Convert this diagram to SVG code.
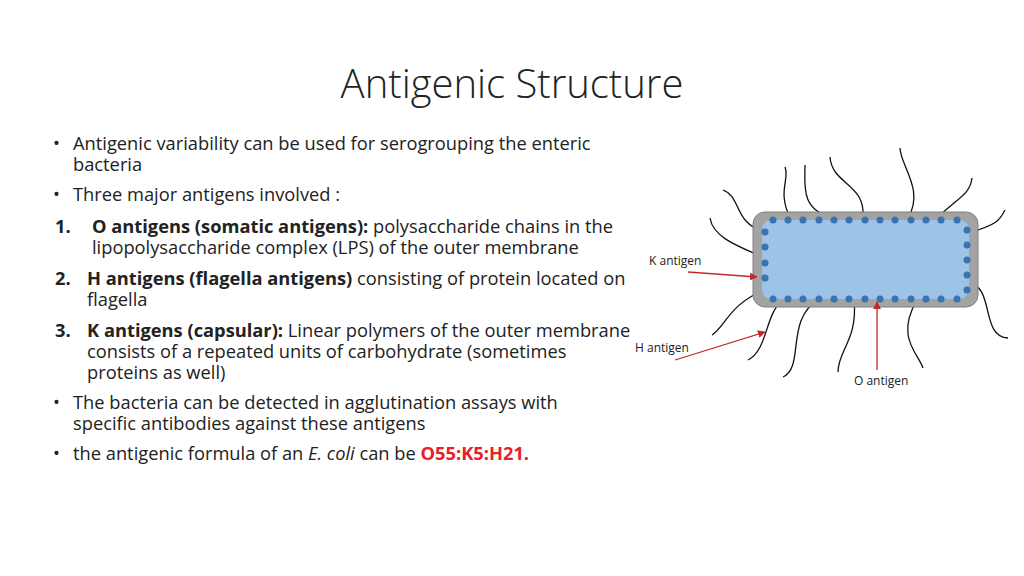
<svg xmlns="http://www.w3.org/2000/svg" width="1024" height="576" viewBox="0 0 1024 576">
<style>
text{font-family:"Open Sans","Liberation Sans",sans-serif;fill:#222}
.b{font-size:18.3px}
.l{font-size:12px}
.f{fill:none;stroke:#111;stroke-width:1.3}
.r{stroke:#c0282d;stroke-width:1.3;marker-end:url(#a)}
.d{fill:#3a73b0}
</style>
<defs><marker id="a" viewBox="0 0 10 10" refX="9" refY="5" markerWidth="6" markerHeight="6" orient="auto"><path d="M0,0L10,5L0,10z" fill="#c0282d"/></marker></defs>
<rect width="1024" height="576" fill="#fff"/>
<text x="512" y="98" text-anchor="middle" font-size="40" font-weight="300">Antigenic Structure</text>
<g class="b">
<text x="53" y="150">•</text><text x="73" y="150">Antigenic variability can be used for serogrouping the enteric</text>
<text x="73" y="171">bacteria</text>
<text x="53" y="201">•</text><text x="73" y="201">Three major antigens involved :</text>
<text x="55" y="233" font-weight="bold">1.</text><text x="92" y="233"><tspan font-weight="bold">O antigens (somatic antigens):</tspan> polysaccharide chains in the</text>
<text x="92" y="254">lipopolysaccharide complex  (LPS) of the outer membrane</text>
<text x="55" y="285" font-weight="bold">2.</text><text x="87" y="285"><tspan font-weight="bold">H antigens (flagella antigens)</tspan> consisting of protein located on</text>
<text x="87" y="306">flagella</text>
<text x="55" y="337" font-weight="bold">3.</text><text x="87" y="337"><tspan font-weight="bold">K antigens (capsular):</tspan>  Linear polymers of the outer membrane</text>
<text x="87" y="358">consists of a repeated units of carbohydrate (sometimes</text>
<text x="87" y="379">proteins as well)</text>
<text x="53" y="409">•</text><text x="73" y="409">The bacteria can be detected in agglutination assays with</text>
<text x="73" y="430">specific antibodies against these antigens</text>
<text x="53" y="460">•</text><text x="73" y="460">the antigenic formula of an <tspan font-style="italic">E. coli</tspan> can be <tspan font-weight="bold" fill="#e8202a">O55:K5:H21.</tspan></text>
</g>
<g id="flagella">
<path class="f" d="M790,218C777,190 790,180 785,167"/>
<path class="f" d="M833,218C800,210 805,185 805,165"/>
<path class="f" d="M863,218C866,183 832,185 830,157"/>
<path class="f" d="M908,218C925,190 900,165 900,148"/>
<path class="f" d="M937,218C957,198 970,195 972,178"/>
<path class="f" d="M968,233C997,225 1000,220 1005,210"/>
<path class="f" d="M968,283C995,285 980,337 1008,338"/>
<path class="f" d="M765,232C733,223 742,197 723,190"/>
<path class="f" d="M765,258C740,247 713,238 710,218"/>
<path class="f" d="M765,290C730,303 725,327 712,335"/>
<path class="f" d="M783,300C765,313 768,350 748,360"/>
<path class="f" d="M818,300C785,320 805,367 783,377"/>
<path class="f" d="M854,300C858,340 838,350 838,372"/>
<path class="f" d="M917,300C895,337 918,353 923,368"/>
</g>
<g id="cell">
<rect x="753" y="212" width="225" height="95" rx="12" fill="#a3a3a3" stroke="#7f7f7f"/>
<rect x="762" y="220" width="207" height="79" rx="9" fill="#9dc3e6"/>
</g>
<g id="antigens">
<circle class="d" cx="773" cy="220" r="3.5"/><circle class="d" cx="788" cy="220" r="3.5"/><circle class="d" cx="803" cy="220" r="3.5"/><circle class="d" cx="819" cy="220" r="3.5"/><circle class="d" cx="834" cy="220" r="3.5"/><circle class="d" cx="849" cy="220" r="3.5"/><circle class="d" cx="865" cy="220" r="3.5"/><circle class="d" cx="880" cy="220" r="3.5"/><circle class="d" cx="895" cy="220" r="3.5"/><circle class="d" cx="911" cy="220" r="3.5"/><circle class="d" cx="926" cy="220" r="3.5"/><circle class="d" cx="941" cy="220" r="3.5"/><circle class="d" cx="957" cy="220" r="3.5"/>
<circle class="d" cx="773" cy="299" r="3.5"/><circle class="d" cx="788" cy="299" r="3.5"/><circle class="d" cx="803" cy="299" r="3.5"/><circle class="d" cx="819" cy="299" r="3.5"/><circle class="d" cx="834" cy="299" r="3.5"/><circle class="d" cx="849" cy="299" r="3.5"/><circle class="d" cx="865" cy="299" r="3.5"/><circle class="d" cx="880" cy="299" r="3.5"/><circle class="d" cx="895" cy="299" r="3.5"/><circle class="d" cx="911" cy="299" r="3.5"/><circle class="d" cx="926" cy="299" r="3.5"/><circle class="d" cx="941" cy="299" r="3.5"/><circle class="d" cx="957" cy="299" r="3.5"/>
<circle class="d" cx="765" cy="232" r="3.5"/><circle class="d" cx="765" cy="247" r="3.5"/><circle class="d" cx="765" cy="263" r="3.5"/><circle class="d" cx="765" cy="278" r="3.5"/>
<circle class="d" cx="967" cy="230" r="3.5"/><circle class="d" cx="967" cy="245" r="3.5"/><circle class="d" cx="967" cy="260" r="3.5"/><circle class="d" cx="967" cy="275" r="3.5"/><circle class="d" cx="967" cy="290" r="3.5"/>
</g>
<g id="connectors">
<line class="r" x1="688" y1="272" x2="757" y2="277"/>
<line class="r" x1="675" y1="360" x2="765" y2="332"/>
<line class="r" x1="877" y1="370" x2="877" y2="302"/>
</g>
<g id="labels" class="l">
<text x="649" y="265">K antigen</text>
<text x="635" y="352">H antigen</text>
<text x="854" y="385">O antigen</text>
</g>
</svg>
